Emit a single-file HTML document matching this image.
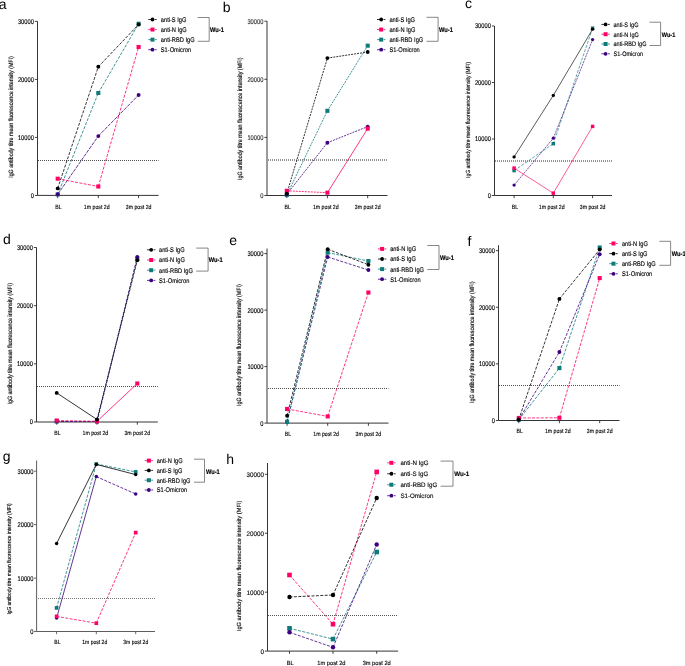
<!DOCTYPE html>
<html><head><meta charset="utf-8"><style>
html,body{margin:0;padding:0;background:#fff;width:685px;height:666px;overflow:hidden}
svg{display:block;font-family:"Liberation Sans", sans-serif;text-rendering:geometricPrecision;will-change:transform}
</style></head><body>
<svg width="685" height="666" viewBox="0 0 685 666">
<text x="-1.3" y="8.8" font-size="14" fill="#000">a</text>
<path d="M37.5 21.4V195.4H158.6" fill="none" stroke="#2a2a2a" stroke-width="0.95"/>
<path d="M34.9 195.40H37.5" stroke="#2a2a2a" stroke-width="0.9"/>
<text transform="translate(33.90,195.40) scale(1,1.18)" y="2.10" font-size="5.75" text-anchor="end" stroke="#000" stroke-width="0.12" fill="#000">0</text>
<path d="M34.9 137.40H37.5" stroke="#2a2a2a" stroke-width="0.9"/>
<text transform="translate(33.90,137.40) scale(1,1.18)" y="2.10" font-size="5.75" text-anchor="end" stroke="#000" stroke-width="0.12" fill="#000">10000</text>
<path d="M34.9 79.40H37.5" stroke="#2a2a2a" stroke-width="0.9"/>
<text transform="translate(33.90,79.40) scale(1,1.18)" y="2.10" font-size="5.75" text-anchor="end" stroke="#000" stroke-width="0.12" fill="#000">20000</text>
<path d="M34.9 21.40H37.5" stroke="#2a2a2a" stroke-width="0.9"/>
<text transform="translate(33.90,21.40) scale(1,1.18)" y="2.10" font-size="5.75" text-anchor="end" stroke="#000" stroke-width="0.12" fill="#000">30000</text>
<path d="M57.7 195.4V198.1" stroke="#2a2a2a" stroke-width="0.9"/>
<path d="M98.3 195.4V198.1" stroke="#2a2a2a" stroke-width="0.9"/>
<path d="M138.6 195.4V198.1" stroke="#2a2a2a" stroke-width="0.9"/>
<text transform="translate(58.50,206.50) scale(1,1.18)" y="1.90" font-size="5.2" text-anchor="middle" stroke="#000" stroke-width="0.12" fill="#000">BL</text>
<text transform="translate(96.70,206.50) scale(1,1.18)" y="1.90" font-size="5.2" text-anchor="middle" stroke="#000" stroke-width="0.12" fill="#000">1m post 2d</text>
<text transform="translate(138.60,206.50) scale(1,1.18)" y="1.90" font-size="5.2" text-anchor="middle" stroke="#000" stroke-width="0.12" fill="#000">3m post 2d</text>
<text transform="translate(10.50,117.00) rotate(-90) scale(1,1.18)" y="1.93" font-size="5.3" text-anchor="middle" stroke="#000" stroke-width="0.12" fill="#000">IgG antibody titre mean fluorescence intensity (MFI)</text>
<path d="M38 160.5H158.6" stroke="#505050" stroke-width="1" stroke-dasharray="1 1"/>
<path d="M57.7 194.5L98.3 93.0" fill="none" stroke="#0e7a7a" stroke-width="0.8" stroke-dasharray="3 1.4"/>
<path d="M98.3 93.0L138.6 23.8" fill="none" stroke="#0e7a7a" stroke-width="0.8" stroke-dasharray="3 1.4"/>
<path d="M57.7 194.3L98.3 136.1" fill="none" stroke="#3c0080" stroke-width="0.8" stroke-dasharray="3.6 1"/>
<path d="M98.3 136.1L138.6 95.0" fill="none" stroke="#3c0080" stroke-width="0.8" stroke-dasharray="3.6 1"/>
<path d="M57.7 178.7L98.3 186.5" fill="none" stroke="#ff0066" stroke-width="0.8" stroke-dasharray="3 1.4"/>
<path d="M98.3 186.5L138.6 47.0" fill="none" stroke="#ff0066" stroke-width="0.8" stroke-dasharray="3 1.4"/>
<path d="M57.7 188.4L98.3 66.8" fill="none" stroke="#000000" stroke-width="0.8" stroke-dasharray="3 1.4"/>
<path d="M98.3 66.8L138.6 24.5" fill="none" stroke="#000000" stroke-width="0.8" stroke-dasharray="3 1.4"/>
<rect x="55.65" y="192.45" width="4.09" height="4.09" fill="#0e7a7a"/>
<rect x="96.25" y="90.95" width="4.09" height="4.09" fill="#0e7a7a"/>
<rect x="136.55" y="21.75" width="4.09" height="4.09" fill="#0e7a7a"/>
<circle cx="57.70" cy="194.30" r="1.95" fill="#3c0080"/>
<circle cx="98.30" cy="136.10" r="1.95" fill="#3c0080"/>
<circle cx="138.60" cy="95.00" r="1.95" fill="#3c0080"/>
<rect x="55.65" y="176.65" width="4.09" height="4.09" fill="#ff0066"/>
<rect x="96.25" y="184.45" width="4.09" height="4.09" fill="#ff0066"/>
<rect x="136.55" y="44.95" width="4.09" height="4.09" fill="#ff0066"/>
<circle cx="57.70" cy="188.40" r="1.95" fill="#000000"/>
<circle cx="98.30" cy="66.80" r="1.95" fill="#000000"/>
<circle cx="138.60" cy="24.50" r="1.95" fill="#000000"/>
<path d="M148.3 19.50H152.5M154.8 19.50H156.7" stroke="#000000" stroke-width="0.8"/>
<circle cx="152.50" cy="19.50" r="1.90" fill="#000000"/>
<text transform="translate(160.80,19.50) scale(1,1.18)" y="2.08" font-size="5.7" stroke="#000" stroke-width="0.12" fill="#000">anti-S IgG</text>
<path d="M148.3 29.57H152.5M154.8 29.57H156.7" stroke="#ff0066" stroke-width="0.8"/>
<rect x="150.50" y="27.57" width="3.99" height="3.99" fill="#ff0066"/>
<text transform="translate(160.80,29.57) scale(1,1.18)" y="2.08" font-size="5.7" stroke="#000" stroke-width="0.12" fill="#000">anti-N IgG</text>
<path d="M148.3 39.64H152.5M154.8 39.64H156.7" stroke="#0e7a7a" stroke-width="0.8"/>
<rect x="150.50" y="37.65" width="3.99" height="3.99" fill="#0e7a7a"/>
<text transform="translate(160.80,39.64) scale(1,1.18)" y="2.08" font-size="5.7" stroke="#000" stroke-width="0.12" fill="#000">anti-RBD IgG</text>
<path d="M148.3 49.71H152.5M154.8 49.71H156.7" stroke="#3c0080" stroke-width="0.8"/>
<circle cx="152.50" cy="49.71" r="1.90" fill="#3c0080"/>
<text transform="translate(160.80,49.71) scale(1,1.18)" y="2.08" font-size="5.7" stroke="#000" stroke-width="0.12" fill="#000">S1-Omicron</text>
<path d="M197.6 17.5H209.2V41.3H197.6" fill="none" stroke="#555" stroke-width="0.7"/>
<text transform="translate(210.00,29.80) scale(1,1.18)" y="2.08" font-size="5.7" font-weight="bold" stroke="#000" stroke-width="0.15" fill="#000">Wu-1</text>
<text x="222.7" y="11.7" font-size="14" fill="#000">b</text>
<path d="M267.0 21.2V195.5H387.5" fill="none" stroke="#2a2a2a" stroke-width="0.95"/>
<path d="M264.4 195.50H267.0" stroke="#2a2a2a" stroke-width="0.9"/>
<text transform="translate(263.40,195.50) scale(1,1.18)" y="2.10" font-size="5.75" text-anchor="end" stroke="#333" stroke-width="0.12" fill="#333">0</text>
<path d="M264.4 137.40H267.0" stroke="#2a2a2a" stroke-width="0.9"/>
<text transform="translate(263.40,137.40) scale(1,1.18)" y="2.10" font-size="5.75" text-anchor="end" stroke="#333" stroke-width="0.12" fill="#333">10000</text>
<path d="M264.4 79.30H267.0" stroke="#2a2a2a" stroke-width="0.9"/>
<text transform="translate(263.40,79.30) scale(1,1.18)" y="2.10" font-size="5.75" text-anchor="end" stroke="#333" stroke-width="0.12" fill="#333">20000</text>
<path d="M264.4 21.20H267.0" stroke="#2a2a2a" stroke-width="0.9"/>
<text transform="translate(263.40,21.20) scale(1,1.18)" y="2.10" font-size="5.75" text-anchor="end" stroke="#333" stroke-width="0.12" fill="#333">30000</text>
<path d="M286.8 195.5V198.2" stroke="#2a2a2a" stroke-width="0.9"/>
<path d="M327.4 195.5V198.2" stroke="#2a2a2a" stroke-width="0.9"/>
<path d="M367.7 195.5V198.2" stroke="#2a2a2a" stroke-width="0.9"/>
<text transform="translate(287.60,206.50) scale(1,1.18)" y="1.90" font-size="5.2" text-anchor="middle" stroke="#000" stroke-width="0.12" fill="#000">BL</text>
<text transform="translate(325.80,206.50) scale(1,1.18)" y="1.90" font-size="5.2" text-anchor="middle" stroke="#000" stroke-width="0.12" fill="#000">1m post 2d</text>
<text transform="translate(367.70,206.50) scale(1,1.18)" y="1.90" font-size="5.2" text-anchor="middle" stroke="#000" stroke-width="0.12" fill="#000">3m post 2d</text>
<text transform="translate(239.80,118.70) rotate(-90) scale(1,1.18)" y="1.95" font-size="5.35" text-anchor="middle" stroke="#000" stroke-width="0.12" fill="#000">IgG antibody titre mean fluorescence intensity (MFI)</text>
<path d="M268 160.0H387.5" stroke="#2a2a2a" stroke-width="1" stroke-dasharray="1 1"/>
<path d="M286.8 195.0L327.4 110.8" fill="none" stroke="#0e7a7a" stroke-width="0.8" stroke-dasharray="2 1"/>
<path d="M327.4 110.8L367.7 45.7" fill="none" stroke="#0e7a7a" stroke-width="0.8" stroke-dasharray="2 1"/>
<path d="M286.8 194.3L327.4 142.7" fill="none" stroke="#3c0080" stroke-width="0.8" stroke-dasharray="2 1"/>
<path d="M327.4 142.7L367.7 126.6" fill="none" stroke="#3c0080" stroke-width="0.8" stroke-dasharray="2 1"/>
<path d="M286.8 190.8L327.4 192.7" fill="none" stroke="#ff0066" stroke-width="0.8" stroke-dasharray="2 1"/>
<path d="M327.4 192.7L367.7 128.6" fill="none" stroke="#ff0066" stroke-width="0.8"/>
<path d="M286.8 193.6L327.4 58.1" fill="none" stroke="#000000" stroke-width="0.8" stroke-dasharray="2 1"/>
<path d="M327.4 58.1L367.7 52.0" fill="none" stroke="#000000" stroke-width="0.8" stroke-dasharray="2 1"/>
<rect x="284.75" y="192.95" width="4.09" height="4.09" fill="#0e7a7a"/>
<rect x="325.35" y="108.75" width="4.09" height="4.09" fill="#0e7a7a"/>
<rect x="365.65" y="43.65" width="4.09" height="4.09" fill="#0e7a7a"/>
<circle cx="286.80" cy="194.30" r="1.95" fill="#3c0080"/>
<circle cx="327.40" cy="142.70" r="1.95" fill="#3c0080"/>
<circle cx="367.70" cy="126.60" r="1.95" fill="#3c0080"/>
<rect x="284.75" y="188.75" width="4.09" height="4.09" fill="#ff0066"/>
<rect x="325.35" y="190.65" width="4.09" height="4.09" fill="#ff0066"/>
<rect x="365.65" y="126.55" width="4.09" height="4.09" fill="#ff0066"/>
<circle cx="286.80" cy="193.60" r="1.95" fill="#000000"/>
<circle cx="327.40" cy="58.10" r="1.95" fill="#000000"/>
<circle cx="367.70" cy="52.00" r="1.95" fill="#000000"/>
<path d="M377.0 19.50H381.2M383.5 19.50H385.4" stroke="#000000" stroke-width="0.8"/>
<circle cx="381.20" cy="19.50" r="1.90" fill="#000000"/>
<text transform="translate(389.40,19.50) scale(1,1.18)" y="2.08" font-size="5.7" stroke="#000" stroke-width="0.12" fill="#000">anti-S IgG</text>
<path d="M377.0 29.57H381.2M383.5 29.57H385.4" stroke="#ff0066" stroke-width="0.8"/>
<rect x="379.20" y="27.57" width="3.99" height="3.99" fill="#ff0066"/>
<text transform="translate(389.40,29.57) scale(1,1.18)" y="2.08" font-size="5.7" stroke="#000" stroke-width="0.12" fill="#000">anti-N IgG</text>
<path d="M377.0 39.64H381.2M383.5 39.64H385.4" stroke="#0e7a7a" stroke-width="0.8"/>
<rect x="379.20" y="37.65" width="3.99" height="3.99" fill="#0e7a7a"/>
<text transform="translate(389.40,39.64) scale(1,1.18)" y="2.08" font-size="5.7" stroke="#000" stroke-width="0.12" fill="#000">anti-RBD IgG</text>
<path d="M377.0 49.71H381.2M383.5 49.71H385.4" stroke="#3c0080" stroke-width="0.8"/>
<circle cx="381.20" cy="49.71" r="1.90" fill="#3c0080"/>
<text transform="translate(389.40,49.71) scale(1,1.18)" y="2.08" font-size="5.7" stroke="#000" stroke-width="0.12" fill="#000">S1-Omicron</text>
<path d="M426.5 17.3H438.1V41.3H426.5" fill="none" stroke="#555" stroke-width="0.7"/>
<text transform="translate(439.00,29.70) scale(1,1.18)" y="2.08" font-size="5.7" font-weight="bold" stroke="#000" stroke-width="0.15" fill="#000">Wu-1</text>
<text x="465.0" y="7.9" font-size="14" fill="#000">c</text>
<path d="M494.5 26.0V195.5H612.0" fill="none" stroke="#2a2a2a" stroke-width="0.95"/>
<path d="M491.9 195.50H494.5" stroke="#2a2a2a" stroke-width="0.9"/>
<text transform="translate(490.90,195.50) scale(1,1.18)" y="2.10" font-size="5.75" text-anchor="end" stroke="#000" stroke-width="0.12" fill="#000">0</text>
<path d="M491.9 139.00H494.5" stroke="#2a2a2a" stroke-width="0.9"/>
<text transform="translate(490.90,139.00) scale(1,1.18)" y="2.10" font-size="5.75" text-anchor="end" stroke="#000" stroke-width="0.12" fill="#000">10000</text>
<path d="M491.9 82.50H494.5" stroke="#2a2a2a" stroke-width="0.9"/>
<text transform="translate(490.90,82.50) scale(1,1.18)" y="2.10" font-size="5.75" text-anchor="end" stroke="#000" stroke-width="0.12" fill="#000">20000</text>
<path d="M491.9 26.00H494.5" stroke="#2a2a2a" stroke-width="0.9"/>
<text transform="translate(490.90,26.00) scale(1,1.18)" y="2.10" font-size="5.75" text-anchor="end" stroke="#000" stroke-width="0.12" fill="#000">30000</text>
<path d="M514.1 195.5V198.2" stroke="#2a2a2a" stroke-width="0.9"/>
<path d="M553.3 195.5V198.2" stroke="#2a2a2a" stroke-width="0.9"/>
<path d="M592.6 195.5V198.2" stroke="#2a2a2a" stroke-width="0.9"/>
<text transform="translate(514.90,206.50) scale(1,1.18)" y="1.90" font-size="5.2" text-anchor="middle" stroke="#000" stroke-width="0.12" fill="#000">BL</text>
<text transform="translate(551.70,206.50) scale(1,1.18)" y="1.90" font-size="5.2" text-anchor="middle" stroke="#000" stroke-width="0.12" fill="#000">1m post 2d</text>
<text transform="translate(592.60,206.50) scale(1,1.18)" y="1.90" font-size="5.2" text-anchor="middle" stroke="#000" stroke-width="0.12" fill="#000">3m post 2d</text>
<text transform="translate(467.80,120.00) rotate(-90) scale(1,1.18)" y="1.84" font-size="5.05" text-anchor="middle" stroke="#000" stroke-width="0.12" fill="#000">IgG antibody titre mean fluorescence intensity (MFI)</text>
<path d="M495 161.0H612.0" stroke="#2a2a2a" stroke-width="1" stroke-dasharray="1 1"/>
<path d="M514.1 170.6L553.3 143.7" fill="none" stroke="#0e7a7a" stroke-width="0.65" stroke-dasharray="3 1.4"/>
<path d="M553.3 143.7L592.6 28.2" fill="none" stroke="#0e7a7a" stroke-width="0.65" stroke-dasharray="3 1.4"/>
<path d="M514.1 185.1L553.3 138.2" fill="none" stroke="#3c0080" stroke-width="0.65" stroke-dasharray="2.2 0.8"/>
<path d="M553.3 138.2L592.6 39.6" fill="none" stroke="#3c0080" stroke-width="0.65" stroke-dasharray="2.2 0.8"/>
<path d="M514.1 168.1L553.3 193.2" fill="none" stroke="#ff0066" stroke-width="0.65"/>
<path d="M553.3 193.2L592.6 126.4" fill="none" stroke="#ff0066" stroke-width="0.65"/>
<path d="M514.1 156.9L553.3 95.4" fill="none" stroke="#000000" stroke-width="0.65"/>
<path d="M553.3 95.4L592.6 29.2" fill="none" stroke="#000000" stroke-width="0.65"/>
<rect x="512.37" y="168.87" width="3.46" height="3.46" fill="#0e7a7a"/>
<rect x="551.57" y="141.97" width="3.46" height="3.46" fill="#0e7a7a"/>
<rect x="590.87" y="26.47" width="3.46" height="3.46" fill="#0e7a7a"/>
<circle cx="514.10" cy="185.10" r="1.65" fill="#3c0080"/>
<circle cx="553.30" cy="138.20" r="1.65" fill="#3c0080"/>
<circle cx="592.60" cy="39.60" r="1.65" fill="#3c0080"/>
<rect x="512.37" y="166.37" width="3.46" height="3.46" fill="#ff0066"/>
<rect x="551.57" y="191.47" width="3.46" height="3.46" fill="#ff0066"/>
<rect x="590.87" y="124.67" width="3.46" height="3.46" fill="#ff0066"/>
<circle cx="514.10" cy="156.90" r="1.65" fill="#000000"/>
<circle cx="553.30" cy="95.40" r="1.65" fill="#000000"/>
<circle cx="592.60" cy="29.20" r="1.65" fill="#000000"/>
<path d="M601.4 24.40H605.6M607.9 24.40H609.8000000000001" stroke="#000000" stroke-width="0.8"/>
<circle cx="605.60" cy="24.40" r="1.90" fill="#000000"/>
<text transform="translate(613.50,24.40) scale(1,1.18)" y="2.02" font-size="5.55" stroke="#000" stroke-width="0.12" fill="#000">anti-S IgG</text>
<path d="M601.4 34.20H605.6M607.9 34.20H609.8000000000001" stroke="#ff0066" stroke-width="0.8"/>
<rect x="603.61" y="32.21" width="3.99" height="3.99" fill="#ff0066"/>
<text transform="translate(613.50,34.20) scale(1,1.18)" y="2.02" font-size="5.55" stroke="#000" stroke-width="0.12" fill="#000">anti-N IgG</text>
<path d="M601.4 44.00H605.6M607.9 44.00H609.8000000000001" stroke="#0e7a7a" stroke-width="0.8"/>
<rect x="603.61" y="42.01" width="3.99" height="3.99" fill="#0e7a7a"/>
<text transform="translate(613.50,44.00) scale(1,1.18)" y="2.02" font-size="5.55" stroke="#000" stroke-width="0.12" fill="#000">anti-RBD IgG</text>
<path d="M601.4 53.80H605.6M607.9 53.80H609.8000000000001" stroke="#3c0080" stroke-width="0.8"/>
<circle cx="605.60" cy="53.80" r="1.90" fill="#3c0080"/>
<text transform="translate(613.50,53.80) scale(1,1.18)" y="2.02" font-size="5.55" stroke="#000" stroke-width="0.12" fill="#000">S1-Omicron</text>
<path d="M649.5 22.2H660.6V45.5H649.5" fill="none" stroke="#555" stroke-width="0.7"/>
<text transform="translate(661.80,34.25) scale(1,1.18)" y="2.02" font-size="5.55" font-weight="bold" stroke="#000" stroke-width="0.15" fill="#000">Wu-1</text>
<text x="3.1" y="243.7" font-size="14" fill="#000">d</text>
<path d="M36.5 247.5V422.0H157.8" fill="none" stroke="#2a2a2a" stroke-width="0.95"/>
<path d="M33.9 422.00H36.5" stroke="#2a2a2a" stroke-width="0.9"/>
<text transform="translate(32.90,422.00) scale(1,1.18)" y="2.10" font-size="5.75" text-anchor="end" stroke="#000" stroke-width="0.12" fill="#000">0</text>
<path d="M33.9 363.83H36.5" stroke="#2a2a2a" stroke-width="0.9"/>
<text transform="translate(32.90,363.83) scale(1,1.18)" y="2.10" font-size="5.75" text-anchor="end" stroke="#000" stroke-width="0.12" fill="#000">10000</text>
<path d="M33.9 305.67H36.5" stroke="#2a2a2a" stroke-width="0.9"/>
<text transform="translate(32.90,305.67) scale(1,1.18)" y="2.10" font-size="5.75" text-anchor="end" stroke="#000" stroke-width="0.12" fill="#000">20000</text>
<path d="M33.9 247.50H36.5" stroke="#2a2a2a" stroke-width="0.9"/>
<text transform="translate(32.90,247.50) scale(1,1.18)" y="2.10" font-size="5.75" text-anchor="end" stroke="#000" stroke-width="0.12" fill="#000">30000</text>
<path d="M56.7 422.0V424.7" stroke="#2a2a2a" stroke-width="0.9"/>
<path d="M97.0 422.0V424.7" stroke="#2a2a2a" stroke-width="0.9"/>
<path d="M137.3 422.0V424.7" stroke="#2a2a2a" stroke-width="0.9"/>
<text transform="translate(57.50,433.10) scale(1,1.18)" y="1.90" font-size="5.2" text-anchor="middle" stroke="#000" stroke-width="0.12" fill="#000">BL</text>
<text transform="translate(95.40,433.10) scale(1,1.18)" y="1.90" font-size="5.2" text-anchor="middle" stroke="#000" stroke-width="0.12" fill="#000">1m post 2d</text>
<text transform="translate(137.30,433.10) scale(1,1.18)" y="1.90" font-size="5.2" text-anchor="middle" stroke="#000" stroke-width="0.12" fill="#000">3m post 2d</text>
<text transform="translate(10.00,343.70) rotate(-90) scale(1,1.18)" y="1.93" font-size="5.3" text-anchor="middle" stroke="#000" stroke-width="0.12" fill="#000">IgG antibody titre mean fluorescence intensity (MFI)</text>
<path d="M37 386.5H157.8" stroke="#505050" stroke-width="1" stroke-dasharray="1 1"/>
<path d="M56.7 421.5L97.0 421.5" fill="none" stroke="#0e7a7a" stroke-width="0.8" stroke-dasharray="3 1.4"/>
<path d="M97.0 421.5L137.3 258.5" fill="none" stroke="#0e7a7a" stroke-width="0.8" stroke-dasharray="3 1.4"/>
<path d="M56.7 421.5L97.0 421.5" fill="none" stroke="#3c0080" stroke-width="0.8" stroke-dasharray="3 1.4"/>
<path d="M97.0 421.5L137.3 256.9" fill="none" stroke="#3c0080" stroke-width="0.8" stroke-dasharray="3 1.4"/>
<path d="M56.7 420.5L97.0 421.3" fill="none" stroke="#ff0066" stroke-width="0.8" stroke-dasharray="3 1.4"/>
<path d="M97.0 421.3L137.3 383.5" fill="none" stroke="#ff0066" stroke-width="0.8"/>
<path d="M56.7 392.9L97.0 419.5" fill="none" stroke="#000000" stroke-width="0.8"/>
<path d="M97.0 419.5L137.3 260.3" fill="none" stroke="#000000" stroke-width="0.8" stroke-dasharray="3 1.4"/>
<rect x="54.65" y="419.45" width="4.09" height="4.09" fill="#0e7a7a"/>
<rect x="94.95" y="419.45" width="4.09" height="4.09" fill="#0e7a7a"/>
<rect x="135.25" y="256.45" width="4.09" height="4.09" fill="#0e7a7a"/>
<circle cx="56.70" cy="421.50" r="1.95" fill="#3c0080"/>
<circle cx="97.00" cy="421.50" r="1.95" fill="#3c0080"/>
<circle cx="137.30" cy="256.90" r="1.95" fill="#3c0080"/>
<rect x="54.65" y="418.45" width="4.09" height="4.09" fill="#ff0066"/>
<rect x="94.95" y="419.25" width="4.09" height="4.09" fill="#ff0066"/>
<rect x="135.25" y="381.45" width="4.09" height="4.09" fill="#ff0066"/>
<circle cx="56.70" cy="392.90" r="1.95" fill="#000000"/>
<circle cx="97.00" cy="419.50" r="1.95" fill="#000000"/>
<circle cx="137.30" cy="260.30" r="1.95" fill="#000000"/>
<path d="M147.0 249.80H151.2M153.5 249.80H155.39999999999998" stroke="#000000" stroke-width="0.8"/>
<circle cx="151.20" cy="249.80" r="1.90" fill="#000000"/>
<text transform="translate(159.00,249.80) scale(1,1.18)" y="2.08" font-size="5.7" stroke="#000" stroke-width="0.12" fill="#000">anti-S IgG</text>
<path d="M147.0 260.00H151.2M153.5 260.00H155.39999999999998" stroke="#ff0066" stroke-width="0.8"/>
<rect x="149.20" y="258.00" width="3.99" height="3.99" fill="#ff0066"/>
<text transform="translate(159.00,260.00) scale(1,1.18)" y="2.08" font-size="5.7" stroke="#000" stroke-width="0.12" fill="#000">anti-N IgG</text>
<path d="M147.0 270.20H151.2M153.5 270.20H155.39999999999998" stroke="#0e7a7a" stroke-width="0.8"/>
<rect x="149.20" y="268.20" width="3.99" height="3.99" fill="#0e7a7a"/>
<text transform="translate(159.00,270.20) scale(1,1.18)" y="2.08" font-size="5.7" stroke="#000" stroke-width="0.12" fill="#000">anti-RBD IgG</text>
<path d="M147.0 280.40H151.2M153.5 280.40H155.39999999999998" stroke="#3c0080" stroke-width="0.8"/>
<circle cx="151.20" cy="280.40" r="1.90" fill="#3c0080"/>
<text transform="translate(159.00,280.40) scale(1,1.18)" y="2.08" font-size="5.7" stroke="#000" stroke-width="0.12" fill="#000">S1-Omicron</text>
<path d="M196.2 248.1H208.1V271.1H196.2" fill="none" stroke="#555" stroke-width="0.7"/>
<text transform="translate(208.80,260.00) scale(1,1.18)" y="2.08" font-size="5.7" font-weight="bold" stroke="#000" stroke-width="0.15" fill="#000">Wu-1</text>
<text x="229.2" y="244.9" font-size="14" fill="#000">e</text>
<path d="M267.0 248.5V423.1H388.5" fill="none" stroke="#2a2a2a" stroke-width="0.95"/>
<path d="M264.4 423.10H267.0" stroke="#2a2a2a" stroke-width="0.9"/>
<text transform="translate(263.40,423.10) scale(1,1.18)" y="2.10" font-size="5.75" text-anchor="end" stroke="#000" stroke-width="0.12" fill="#000">0</text>
<path d="M264.4 366.60H267.0" stroke="#2a2a2a" stroke-width="0.9"/>
<text transform="translate(263.40,366.60) scale(1,1.18)" y="2.10" font-size="5.75" text-anchor="end" stroke="#000" stroke-width="0.12" fill="#000">10000</text>
<path d="M264.4 310.10H267.0" stroke="#2a2a2a" stroke-width="0.9"/>
<text transform="translate(263.40,310.10) scale(1,1.18)" y="2.10" font-size="5.75" text-anchor="end" stroke="#000" stroke-width="0.12" fill="#000">20000</text>
<path d="M264.4 253.60H267.0" stroke="#2a2a2a" stroke-width="0.9"/>
<text transform="translate(263.40,253.60) scale(1,1.18)" y="2.10" font-size="5.75" text-anchor="end" stroke="#000" stroke-width="0.12" fill="#000">30000</text>
<path d="M287.1 423.1V425.8" stroke="#2a2a2a" stroke-width="0.9"/>
<path d="M327.7 423.1V425.8" stroke="#2a2a2a" stroke-width="0.9"/>
<path d="M368.4 423.1V425.8" stroke="#2a2a2a" stroke-width="0.9"/>
<text transform="translate(287.90,434.20) scale(1,1.18)" y="1.90" font-size="5.2" text-anchor="middle" stroke="#000" stroke-width="0.12" fill="#000">BL</text>
<text transform="translate(326.10,434.20) scale(1,1.18)" y="1.90" font-size="5.2" text-anchor="middle" stroke="#000" stroke-width="0.12" fill="#000">1m post 2d</text>
<text transform="translate(368.40,434.20) scale(1,1.18)" y="1.90" font-size="5.2" text-anchor="middle" stroke="#000" stroke-width="0.12" fill="#000">3m post 2d</text>
<text transform="translate(238.50,345.10) rotate(-90) scale(1,1.18)" y="1.93" font-size="5.3" text-anchor="middle" stroke="#000" stroke-width="0.12" fill="#000">IgG antibody titre mean fluorescence intensity (MFI)</text>
<path d="M268 388.5H388.5" stroke="#505050" stroke-width="1" stroke-dasharray="1 1"/>
<path d="M287.1 421.5L327.7 257.0" fill="none" stroke="#3c0080" stroke-width="0.8" stroke-dasharray="3 1.4"/>
<path d="M327.7 257.0L368.4 270.0" fill="none" stroke="#3c0080" stroke-width="0.8" stroke-dasharray="3 1.4"/>
<path d="M287.1 421.8L327.7 252.6" fill="none" stroke="#0e7a7a" stroke-width="0.8" stroke-dasharray="3 1.4"/>
<path d="M327.7 252.6L368.4 261.0" fill="none" stroke="#0e7a7a" stroke-width="0.8" stroke-dasharray="3 1.4"/>
<path d="M287.1 409.0L327.7 416.4" fill="none" stroke="#ff0066" stroke-width="0.8" stroke-dasharray="3 1.4"/>
<path d="M327.7 416.4L368.4 292.5" fill="none" stroke="#ff0066" stroke-width="0.8" stroke-dasharray="3 1.4"/>
<path d="M287.1 415.8L327.7 249.2" fill="none" stroke="#000000" stroke-width="0.8" stroke-dasharray="3 1.4"/>
<path d="M327.7 249.2L368.4 264.7" fill="none" stroke="#000000" stroke-width="0.8" stroke-dasharray="3 1.4"/>
<circle cx="287.10" cy="421.50" r="1.95" fill="#3c0080"/>
<circle cx="327.70" cy="257.00" r="1.95" fill="#3c0080"/>
<circle cx="368.40" cy="270.00" r="1.95" fill="#3c0080"/>
<rect x="285.05" y="419.75" width="4.09" height="4.09" fill="#0e7a7a"/>
<rect x="325.65" y="250.55" width="4.09" height="4.09" fill="#0e7a7a"/>
<rect x="366.35" y="258.95" width="4.09" height="4.09" fill="#0e7a7a"/>
<rect x="285.05" y="406.95" width="4.09" height="4.09" fill="#ff0066"/>
<rect x="325.65" y="414.35" width="4.09" height="4.09" fill="#ff0066"/>
<rect x="366.35" y="290.45" width="4.09" height="4.09" fill="#ff0066"/>
<circle cx="287.10" cy="415.80" r="1.95" fill="#000000"/>
<circle cx="327.70" cy="249.20" r="1.95" fill="#000000"/>
<circle cx="368.40" cy="264.70" r="1.95" fill="#000000"/>
<path d="M377.90000000000003 248.90H382.1M384.40000000000003 248.90H386.3" stroke="#ff0066" stroke-width="0.8"/>
<rect x="380.11" y="246.91" width="3.99" height="3.99" fill="#ff0066"/>
<text transform="translate(390.20,248.90) scale(1,1.18)" y="2.08" font-size="5.7" stroke="#000" stroke-width="0.12" fill="#000">anti-N IgG</text>
<path d="M377.90000000000003 259.00H382.1M384.40000000000003 259.00H386.3" stroke="#000000" stroke-width="0.8"/>
<circle cx="382.10" cy="259.00" r="1.90" fill="#000000"/>
<text transform="translate(390.20,259.00) scale(1,1.18)" y="2.08" font-size="5.7" stroke="#000" stroke-width="0.12" fill="#000">anti-S IgG</text>
<path d="M377.90000000000003 269.10H382.1M384.40000000000003 269.10H386.3" stroke="#0e7a7a" stroke-width="0.8"/>
<rect x="380.11" y="267.11" width="3.99" height="3.99" fill="#0e7a7a"/>
<text transform="translate(390.20,269.10) scale(1,1.18)" y="2.08" font-size="5.7" stroke="#000" stroke-width="0.12" fill="#000">anti-RBD IgG</text>
<path d="M377.90000000000003 279.20H382.1M384.40000000000003 279.20H386.3" stroke="#3c0080" stroke-width="0.8"/>
<circle cx="382.10" cy="279.20" r="1.90" fill="#3c0080"/>
<text transform="translate(390.20,279.20) scale(1,1.18)" y="2.08" font-size="5.7" stroke="#000" stroke-width="0.12" fill="#000">S1-Omicron</text>
<path d="M427.4 245.5H439.0V269.5H427.4" fill="none" stroke="#555" stroke-width="0.7"/>
<text transform="translate(440.00,257.90) scale(1,1.18)" y="2.08" font-size="5.7" font-weight="bold" stroke="#000" stroke-width="0.15" fill="#000">Wu-1</text>
<text x="467.6" y="246.2" font-size="14" fill="#000">f</text>
<path d="M498.5 245.2V420.5H619.5" fill="none" stroke="#2a2a2a" stroke-width="0.95"/>
<path d="M495.9 420.50H498.5" stroke="#2a2a2a" stroke-width="0.9"/>
<text transform="translate(494.90,420.50) scale(1,1.18)" y="2.10" font-size="5.75" text-anchor="end" stroke="#000" stroke-width="0.12" fill="#000">0</text>
<path d="M495.9 363.87H498.5" stroke="#2a2a2a" stroke-width="0.9"/>
<text transform="translate(494.90,363.87) scale(1,1.18)" y="2.10" font-size="5.75" text-anchor="end" stroke="#000" stroke-width="0.12" fill="#000">10000</text>
<path d="M495.9 307.23H498.5" stroke="#2a2a2a" stroke-width="0.9"/>
<text transform="translate(494.90,307.23) scale(1,1.18)" y="2.10" font-size="5.75" text-anchor="end" stroke="#000" stroke-width="0.12" fill="#000">20000</text>
<path d="M495.9 250.60H498.5" stroke="#2a2a2a" stroke-width="0.9"/>
<text transform="translate(494.90,250.60) scale(1,1.18)" y="2.10" font-size="5.75" text-anchor="end" stroke="#000" stroke-width="0.12" fill="#000">30000</text>
<path d="M518.8 420.5V423.2" stroke="#2a2a2a" stroke-width="0.9"/>
<path d="M559.4 420.5V423.2" stroke="#2a2a2a" stroke-width="0.9"/>
<path d="M599.7 420.5V423.2" stroke="#2a2a2a" stroke-width="0.9"/>
<text transform="translate(519.60,431.20) scale(1,1.18)" y="1.90" font-size="5.2" text-anchor="middle" stroke="#000" stroke-width="0.12" fill="#000">BL</text>
<text transform="translate(557.80,431.20) scale(1,1.18)" y="1.90" font-size="5.2" text-anchor="middle" stroke="#000" stroke-width="0.12" fill="#000">1m post 2d</text>
<text transform="translate(599.70,431.20) scale(1,1.18)" y="1.90" font-size="5.2" text-anchor="middle" stroke="#000" stroke-width="0.12" fill="#000">3m post 2d</text>
<text transform="translate(471.40,342.20) rotate(-90) scale(1,1.18)" y="1.93" font-size="5.3" text-anchor="middle" stroke="#000" stroke-width="0.12" fill="#000">IgG antibody titre mean fluorescence intensity (MFI)</text>
<path d="M499 385.5H619.5" stroke="#505050" stroke-width="1" stroke-dasharray="1 1"/>
<path d="M518.8 419.8L559.4 368.1" fill="none" stroke="#0e7a7a" stroke-width="0.8" stroke-dasharray="3 1.4"/>
<path d="M559.4 368.1L599.7 247.5" fill="none" stroke="#0e7a7a" stroke-width="0.8" stroke-dasharray="3 1.4"/>
<path d="M518.8 419.6L559.4 352.0" fill="none" stroke="#3c0080" stroke-width="0.8" stroke-dasharray="3 1.4"/>
<path d="M559.4 352.0L599.7 254.3" fill="none" stroke="#3c0080" stroke-width="0.8" stroke-dasharray="3 1.4"/>
<path d="M518.8 418.0L559.4 417.8" fill="none" stroke="#ff0066" stroke-width="0.8" stroke-dasharray="3 1.4"/>
<path d="M559.4 417.8L599.7 278.1" fill="none" stroke="#ff0066" stroke-width="0.8" stroke-dasharray="3 1.4"/>
<path d="M518.8 419.5L559.4 298.9" fill="none" stroke="#000000" stroke-width="0.8" stroke-dasharray="3 1.4"/>
<path d="M559.4 298.9L599.7 249.5" fill="none" stroke="#000000" stroke-width="0.8" stroke-dasharray="3 1.4"/>
<rect x="516.75" y="417.75" width="4.09" height="4.09" fill="#0e7a7a"/>
<rect x="557.35" y="366.05" width="4.09" height="4.09" fill="#0e7a7a"/>
<rect x="597.65" y="245.45" width="4.09" height="4.09" fill="#0e7a7a"/>
<circle cx="518.80" cy="419.60" r="1.95" fill="#3c0080"/>
<circle cx="559.40" cy="352.00" r="1.95" fill="#3c0080"/>
<circle cx="599.70" cy="254.30" r="1.95" fill="#3c0080"/>
<rect x="516.75" y="415.95" width="4.09" height="4.09" fill="#ff0066"/>
<rect x="557.35" y="415.75" width="4.09" height="4.09" fill="#ff0066"/>
<rect x="597.65" y="276.05" width="4.09" height="4.09" fill="#ff0066"/>
<circle cx="518.80" cy="419.50" r="1.95" fill="#000000"/>
<circle cx="559.40" cy="298.90" r="1.95" fill="#000000"/>
<circle cx="599.70" cy="249.50" r="1.95" fill="#000000"/>
<path d="M609.3 243.50H613.5M615.8 243.50H617.7" stroke="#ff0066" stroke-width="0.8"/>
<rect x="611.50" y="241.50" width="3.99" height="3.99" fill="#ff0066"/>
<text transform="translate(621.90,243.50) scale(1,1.18)" y="2.08" font-size="5.7" stroke="#000" stroke-width="0.12" fill="#000">anti-N IgG</text>
<path d="M609.3 253.60H613.5M615.8 253.60H617.7" stroke="#000000" stroke-width="0.8"/>
<circle cx="613.50" cy="253.60" r="1.90" fill="#000000"/>
<text transform="translate(621.90,253.60) scale(1,1.18)" y="2.08" font-size="5.7" stroke="#000" stroke-width="0.12" fill="#000">anti-S IgG</text>
<path d="M609.3 263.70H613.5M615.8 263.70H617.7" stroke="#0e7a7a" stroke-width="0.8"/>
<rect x="611.50" y="261.70" width="3.99" height="3.99" fill="#0e7a7a"/>
<text transform="translate(621.90,263.70) scale(1,1.18)" y="2.08" font-size="5.7" stroke="#000" stroke-width="0.12" fill="#000">anti-RBD IgG</text>
<path d="M609.3 273.80H613.5M615.8 273.80H617.7" stroke="#3c0080" stroke-width="0.8"/>
<circle cx="613.50" cy="273.80" r="1.90" fill="#3c0080"/>
<text transform="translate(621.90,273.80) scale(1,1.18)" y="2.08" font-size="5.7" stroke="#000" stroke-width="0.12" fill="#000">S1-Omicron</text>
<path d="M659.3 241.3H670.6V265.3H659.3" fill="none" stroke="#555" stroke-width="0.7"/>
<text transform="translate(671.80,253.70) scale(1,1.18)" y="2.08" font-size="5.7" font-weight="bold" stroke="#000" stroke-width="0.15" fill="#000">Wu-1</text>
<text x="2.7" y="460.7" font-size="14" fill="#000">g</text>
<path d="M36.6 460.5V631.5H155.0" fill="none" stroke="#555" stroke-width="0.95"/>
<path d="M34.0 631.50H36.6" stroke="#555" stroke-width="0.9"/>
<text transform="translate(33.50,631.50) scale(1,1.18)" y="2.10" font-size="5.75" text-anchor="end" stroke="#000" stroke-width="0.12" fill="#000">0</text>
<path d="M34.0 578.07H36.6" stroke="#555" stroke-width="0.9"/>
<text transform="translate(33.50,578.07) scale(1,1.18)" y="2.10" font-size="5.75" text-anchor="end" stroke="#000" stroke-width="0.12" fill="#000">10000</text>
<path d="M34.0 524.63H36.6" stroke="#555" stroke-width="0.9"/>
<text transform="translate(33.50,524.63) scale(1,1.18)" y="2.10" font-size="5.75" text-anchor="end" stroke="#000" stroke-width="0.12" fill="#000">20000</text>
<path d="M34.0 471.20H36.6" stroke="#555" stroke-width="0.9"/>
<text transform="translate(33.50,471.20) scale(1,1.18)" y="2.10" font-size="5.75" text-anchor="end" stroke="#000" stroke-width="0.12" fill="#000">30000</text>
<path d="M56.6 631.5V634.2" stroke="#555" stroke-width="0.9"/>
<path d="M96.3 631.5V634.2" stroke="#555" stroke-width="0.9"/>
<path d="M135.7 631.5V634.2" stroke="#555" stroke-width="0.9"/>
<text transform="translate(57.40,642.10) scale(1,1.18)" y="1.84" font-size="5.05" text-anchor="middle" stroke="#000" stroke-width="0.12" fill="#000">BL</text>
<text transform="translate(94.70,642.10) scale(1,1.18)" y="1.84" font-size="5.05" text-anchor="middle" stroke="#000" stroke-width="0.12" fill="#000">1m post 2d</text>
<text transform="translate(135.70,642.10) scale(1,1.18)" y="1.84" font-size="5.05" text-anchor="middle" stroke="#000" stroke-width="0.12" fill="#000">3m post 2d</text>
<text transform="translate(9.10,559.00) rotate(-90) scale(1,1.18)" y="1.77" font-size="4.85" text-anchor="middle" stroke="#000" stroke-width="0.12" fill="#000">IgG antibody titre mean fluorescence intensity (MFI)</text>
<path d="M38 598.5H155.0" stroke="#777" stroke-width="1" stroke-dasharray="1 1"/>
<path d="M56.6 607.9L96.3 464.0" fill="none" stroke="#0e7a7a" stroke-width="0.8" stroke-dasharray="3 1.4"/>
<path d="M96.3 464.0L135.7 471.9" fill="none" stroke="#0e7a7a" stroke-width="0.8" stroke-dasharray="3 1.4"/>
<path d="M56.6 618.1L96.3 476.6" fill="none" stroke="#3c0080" stroke-width="0.8"/>
<path d="M96.3 476.6L135.7 494.0" fill="none" stroke="#3c0080" stroke-width="0.8" stroke-dasharray="3 1.4"/>
<path d="M56.6 616.4L96.3 623.2" fill="none" stroke="#ff0066" stroke-width="0.8" stroke-dasharray="3 1.4"/>
<path d="M96.3 623.2L135.7 532.6" fill="none" stroke="#ff0066" stroke-width="0.8" stroke-dasharray="3 1.4"/>
<path d="M56.6 543.5L96.3 464.4" fill="none" stroke="#000000" stroke-width="0.8"/>
<path d="M96.3 464.4L135.7 474.6" fill="none" stroke="#000000" stroke-width="0.8"/>
<rect x="54.76" y="606.06" width="3.68" height="3.68" fill="#0e7a7a"/>
<rect x="94.46" y="462.16" width="3.68" height="3.68" fill="#0e7a7a"/>
<rect x="133.86" y="470.06" width="3.68" height="3.68" fill="#0e7a7a"/>
<circle cx="56.60" cy="618.10" r="1.75" fill="#3c0080"/>
<circle cx="96.30" cy="476.60" r="1.75" fill="#3c0080"/>
<circle cx="135.70" cy="494.00" r="1.75" fill="#3c0080"/>
<rect x="54.76" y="614.56" width="3.68" height="3.68" fill="#ff0066"/>
<rect x="94.46" y="621.36" width="3.68" height="3.68" fill="#ff0066"/>
<rect x="133.86" y="530.76" width="3.68" height="3.68" fill="#ff0066"/>
<circle cx="56.60" cy="543.50" r="1.75" fill="#000000"/>
<circle cx="96.30" cy="464.40" r="1.75" fill="#000000"/>
<circle cx="135.70" cy="474.60" r="1.75" fill="#000000"/>
<path d="M144.70000000000002 460.60H148.9M151.20000000000002 460.60H153.1" stroke="#ff0066" stroke-width="0.8"/>
<rect x="146.91" y="458.61" width="3.99" height="3.99" fill="#ff0066"/>
<text transform="translate(156.70,460.60) scale(1,1.18)" y="2.08" font-size="5.7" stroke="#000" stroke-width="0.12" fill="#000">anti-N IgG</text>
<path d="M144.70000000000002 470.40H148.9M151.20000000000002 470.40H153.1" stroke="#000000" stroke-width="0.8"/>
<circle cx="148.90" cy="470.40" r="1.90" fill="#000000"/>
<text transform="translate(156.70,470.40) scale(1,1.18)" y="2.08" font-size="5.7" stroke="#000" stroke-width="0.12" fill="#000">anti-S IgG</text>
<path d="M144.70000000000002 480.20H148.9M151.20000000000002 480.20H153.1" stroke="#0e7a7a" stroke-width="0.8"/>
<rect x="146.91" y="478.21" width="3.99" height="3.99" fill="#0e7a7a"/>
<text transform="translate(156.70,480.20) scale(1,1.18)" y="2.08" font-size="5.7" stroke="#000" stroke-width="0.12" fill="#000">anti-RBD IgG</text>
<path d="M144.70000000000002 490.00H148.9M151.20000000000002 490.00H153.1" stroke="#3c0080" stroke-width="0.8"/>
<circle cx="148.90" cy="490.00" r="1.90" fill="#3c0080"/>
<text transform="translate(156.70,490.00) scale(1,1.18)" y="2.08" font-size="5.7" stroke="#000" stroke-width="0.12" fill="#000">S1-Omicron</text>
<path d="M194 459.2H204.5V482.2H194" fill="none" stroke="#555" stroke-width="0.7"/>
<text transform="translate(205.90,471.10) scale(1,1.18)" y="2.08" font-size="5.7" font-weight="bold" stroke="#000" stroke-width="0.15" fill="#000">Wu-1</text>
<text x="226.3" y="463.9" font-size="14" fill="#000">h</text>
<path d="M267.5 463.0V651.1H398.1" fill="none" stroke="#2a2a2a" stroke-width="0.95"/>
<path d="M264.9 651.10H267.5" stroke="#2a2a2a" stroke-width="0.9"/>
<text transform="translate(263.90,651.10) scale(1,1.05)" y="2.30" font-size="6.3" text-anchor="end" stroke="#000" stroke-width="0.12" fill="#000">0</text>
<path d="M264.9 592.17H267.5" stroke="#2a2a2a" stroke-width="0.9"/>
<text transform="translate(263.90,592.17) scale(1,1.05)" y="2.30" font-size="6.3" text-anchor="end" stroke="#000" stroke-width="0.12" fill="#000">10000</text>
<path d="M264.9 533.23H267.5" stroke="#2a2a2a" stroke-width="0.9"/>
<text transform="translate(263.90,533.23) scale(1,1.05)" y="2.30" font-size="6.3" text-anchor="end" stroke="#000" stroke-width="0.12" fill="#000">20000</text>
<path d="M264.9 474.30H267.5" stroke="#2a2a2a" stroke-width="0.9"/>
<text transform="translate(263.90,474.30) scale(1,1.05)" y="2.30" font-size="6.3" text-anchor="end" stroke="#000" stroke-width="0.12" fill="#000">30000</text>
<path d="M289.5 651.1V653.8000000000001" stroke="#2a2a2a" stroke-width="0.9"/>
<path d="M333.0 651.1V653.8000000000001" stroke="#2a2a2a" stroke-width="0.9"/>
<path d="M376.7 651.1V653.8000000000001" stroke="#2a2a2a" stroke-width="0.9"/>
<text transform="translate(290.30,662.50) scale(1,1.05)" y="2.08" font-size="5.7" text-anchor="middle" stroke="#000" stroke-width="0.12" fill="#000">BL</text>
<text transform="translate(331.40,662.50) scale(1,1.05)" y="2.08" font-size="5.7" text-anchor="middle" stroke="#000" stroke-width="0.12" fill="#000">1m post 2d</text>
<text transform="translate(376.70,662.50) scale(1,1.05)" y="2.08" font-size="5.7" text-anchor="middle" stroke="#000" stroke-width="0.12" fill="#000">3m post 2d</text>
<text transform="translate(238.50,565.90) rotate(-90) scale(1,1.05)" y="2.08" font-size="5.7" text-anchor="middle" stroke="#000" stroke-width="0.12" fill="#000">IgG antibody titre mean fluorescence intensity (MFI)</text>
<path d="M268 615.5H398.1" stroke="#505050" stroke-width="1" stroke-dasharray="1 1"/>
<path d="M289.5 628.3L333.0 639.1" fill="none" stroke="#0e7a7a" stroke-width="0.8" stroke-dasharray="3 1.4"/>
<path d="M333.0 639.1L376.7 552.0" fill="none" stroke="#0e7a7a" stroke-width="0.8" stroke-dasharray="3 1.4"/>
<path d="M289.5 632.3L333.0 647.3" fill="none" stroke="#3c0080" stroke-width="0.8" stroke-dasharray="3 1.4"/>
<path d="M333.0 647.3L376.7 544.5" fill="none" stroke="#3c0080" stroke-width="0.8" stroke-dasharray="3 1.4"/>
<path d="M289.5 575.0L333.0 624.2" fill="none" stroke="#ff0066" stroke-width="0.8" stroke-dasharray="3 1.4"/>
<path d="M333.0 624.2L376.7 471.9" fill="none" stroke="#ff0066" stroke-width="0.8" stroke-dasharray="3 1.4"/>
<path d="M289.5 597.0L333.0 595.0" fill="none" stroke="#000000" stroke-width="0.8" stroke-dasharray="3 1.4"/>
<path d="M333.0 595.0L376.7 498.0" fill="none" stroke="#000000" stroke-width="0.8" stroke-dasharray="3 1.4"/>
<rect x="287.19" y="625.99" width="4.62" height="4.62" fill="#0e7a7a"/>
<rect x="330.69" y="636.79" width="4.62" height="4.62" fill="#0e7a7a"/>
<rect x="374.39" y="549.69" width="4.62" height="4.62" fill="#0e7a7a"/>
<circle cx="289.50" cy="632.30" r="2.20" fill="#3c0080"/>
<circle cx="333.00" cy="647.30" r="2.20" fill="#3c0080"/>
<circle cx="376.70" cy="544.50" r="2.20" fill="#3c0080"/>
<rect x="287.19" y="572.69" width="4.62" height="4.62" fill="#ff0066"/>
<rect x="330.69" y="621.89" width="4.62" height="4.62" fill="#ff0066"/>
<rect x="374.39" y="469.59" width="4.62" height="4.62" fill="#ff0066"/>
<circle cx="289.50" cy="597.00" r="2.20" fill="#000000"/>
<circle cx="333.00" cy="595.00" r="2.20" fill="#000000"/>
<circle cx="376.70" cy="498.00" r="2.20" fill="#000000"/>
<path d="M387.2 462.80H391.4M393.7 462.80H395.59999999999997" stroke="#ff0066" stroke-width="0.8"/>
<rect x="389.40" y="460.81" width="3.99" height="3.99" fill="#ff0066"/>
<text transform="translate(400.40,462.80) scale(1,1.05)" y="2.26" font-size="6.2" stroke="#000" stroke-width="0.12" fill="#000">anti-N IgG</text>
<path d="M387.2 473.77H391.4M393.7 473.77H395.59999999999997" stroke="#000000" stroke-width="0.8"/>
<circle cx="391.40" cy="473.77" r="1.90" fill="#000000"/>
<text transform="translate(400.40,473.77) scale(1,1.05)" y="2.26" font-size="6.2" stroke="#000" stroke-width="0.12" fill="#000">anti-S IgG</text>
<path d="M387.2 484.74H391.4M393.7 484.74H395.59999999999997" stroke="#0e7a7a" stroke-width="0.8"/>
<rect x="389.40" y="482.75" width="3.99" height="3.99" fill="#0e7a7a"/>
<text transform="translate(400.40,484.74) scale(1,1.05)" y="2.26" font-size="6.2" stroke="#000" stroke-width="0.12" fill="#000">anti-RBD IgG</text>
<path d="M387.2 495.71H391.4M393.7 495.71H395.59999999999997" stroke="#3c0080" stroke-width="0.8"/>
<circle cx="391.40" cy="495.71" r="1.90" fill="#3c0080"/>
<text transform="translate(400.40,495.71) scale(1,1.05)" y="2.26" font-size="6.2" stroke="#000" stroke-width="0.12" fill="#000">S1-Omicron</text>
<path d="M440.6 461.1H453.0V486.2H440.6" fill="none" stroke="#555" stroke-width="0.7"/>
<text transform="translate(454.20,474.05) scale(1,1.05)" y="2.26" font-size="6.2" font-weight="bold" stroke="#000" stroke-width="0.15" fill="#000">Wu-1</text>
</svg>
</body></html>
